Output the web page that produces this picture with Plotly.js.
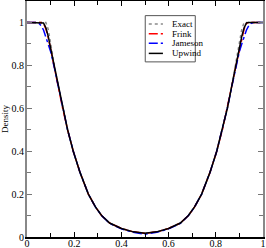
<!DOCTYPE html>
<html>
<head>
<meta charset="utf-8">
<script src="https://cdn.plot.ly/plotly-3.0.1.min.js"></script>
<style>html,body{margin:0;padding:0;background:#fff;}#chart{width:266px;height:248px;}</style>
</head>
<body>
<div id="chart"></div>
<script>
var xPos = [0, 0.02, 0.04, 0.05, 0.06, 0.07, 0.08, 0.09, 0.1, 0.116, 0.133, 0.151, 0.172, 0.196, 0.225, 0.26, 0.29, 0.316, 0.35, 0.4, 0.45, 0.5, 0.55, 0.6, 0.65, 0.684, 0.71, 0.74, 0.775, 0.804, 0.828, 0.849, 0.867, 0.884, 0.9, 0.91, 0.92, 0.93, 0.94, 0.95, 0.96, 0.98, 1];
var exactRho = [1, 1, 1, 1, 1, 1, 1, 0.968, 0.9, 0.8, 0.7, 0.6, 0.5, 0.4, 0.3, 0.2, 0.14, 0.1, 0.065, 0.04, 0.024, 0.018, 0.024, 0.04, 0.065, 0.1, 0.14, 0.2, 0.3, 0.4, 0.5, 0.6, 0.7, 0.8, 0.9, 0.968, 1, 1, 1, 1, 1, 1, 1];
var frinkRho = [1, 1, 1, 1, 1, 0.996, 0.97, 0.93, 0.875, 0.79, 0.7, 0.6, 0.5, 0.4, 0.3, 0.2, 0.14, 0.1, 0.065, 0.04, 0.024, 0.017, 0.024, 0.04, 0.065, 0.1, 0.14, 0.2, 0.3, 0.4, 0.5, 0.6, 0.7, 0.79, 0.875, 0.93, 0.97, 0.996, 1, 1, 1, 1, 1];
var jamesonRho = [1, 1, 1, 0.996, 0.985, 0.965, 0.935, 0.9, 0.865, 0.788, 0.697, 0.6, 0.5, 0.4, 0.3, 0.2, 0.14, 0.1, 0.064, 0.038, 0.022, 0.013, 0.022, 0.038, 0.064, 0.1, 0.14, 0.2, 0.3, 0.4, 0.5, 0.6, 0.697, 0.788, 0.865, 0.9, 0.935, 0.965, 0.985, 0.996, 1, 1, 1];
var upwindRho = [1, 1, 1, 1, 1, 0.998, 0.975, 0.935, 0.88, 0.795, 0.7, 0.6, 0.5, 0.4, 0.3, 0.2, 0.14, 0.1, 0.065, 0.04, 0.024, 0.018, 0.024, 0.04, 0.065, 0.1, 0.14, 0.2, 0.3, 0.4, 0.5, 0.6, 0.7, 0.795, 0.88, 0.935, 0.975, 0.998, 1, 1, 1, 1, 1];
var seriesNames = ['Exact', 'Frink', 'Jameson', 'Upwind'];
var xTickVals = [0, 0.2, 0.4, 0.6, 0.8, 1];
var xTickText = ['0', '0.2', '0.4', '0.6', '0.8', '1'];
var yTickVals = [0, 0.2, 0.4, 0.6, 0.8, 1];
var yTickText = ['0', '0.2', '0.4', '0.6', '0.8', '1'];
var yLabel = 'Density';

var styles = [
  {color: '#8a8a8a', dash: 'dot', width: 1.5},
  {color: '#ff0000', dash: 'dashdot', width: 1.5},
  {color: '#0000ff', dash: 'dashdot', width: 1.5},
  {color: '#000000', dash: 'solid', width: 1.5}
];
var ys = [exactRho, frinkRho, jamesonRho, upwindRho];
var traces = ys.map(function (y, i) {
  return {x: xPos, y: y, name: seriesNames[i], mode: 'lines', type: 'scatter',
          line: {color: styles[i].color, dash: styles[i].dash, width: styles[i].width}, showlegend: false};
});

var font = {family: '"Liberation Serif", "DejaVu Serif", serif', size: 10, color: '#000'};
var lx0 = 0.501, lx1 = 0.713, ly0 = 0.742, ly1 = 0.938;
var rowY = [0.903, 0.861, 0.821, 0.778];
var shapes = [{type: 'rect', xref: 'paper', yref: 'paper', x0: lx0, x1: lx1, y0: ly0, y1: ly1,
               line: {color: '#555', width: 1}, fillcolor: '#fff', layer: 'above'}];
var annotations = [];
seriesNames.forEach(function (n, i) {
  shapes.push({type: 'line', xref: 'paper', yref: 'paper', x0: 0.516, x1: 0.576, y0: rowY[i], y1: rowY[i],
               line: {color: styles[i].color, dash: styles[i].dash, width: styles[i].width}, layer: 'above'});
  annotations.push({xref: 'paper', yref: 'paper', x: 0.605, y: rowY[i], text: n, showarrow: false,
                    xanchor: 'left', yanchor: 'middle', font: {family: font.family, size: 9, color: '#000'}});
});

var layout = {
  width: 266, height: 248,
  margin: {l: 27, r: 3, t: 1, b: 11, pad: 0},
  paper_bgcolor: '#fff', plot_bgcolor: '#fff',
  showlegend: false,
  font: font,
  xaxis: {range: [0, 1], tickvals: xTickVals, ticktext: xTickText, ticks: 'inside', ticklen: 5, tickwidth: 1,
          tickcolor: '#000', showline: true, linecolor: '#000', linewidth: 2, mirror: 'allticks',
          showgrid: false, zeroline: false, tickfont: font, ticklabelstandoff: -4,
          minor: {dtick: 0.1, tick0: 0, ticks: 'inside', ticklen: 4, tickcolor: '#000', showgrid: false}},
  yaxis: {range: [0, 1.1], tickvals: yTickVals, ticktext: yTickText, ticks: 'inside', ticklen: 5, tickwidth: 1,
          tickcolor: '#777', showline: true, linecolor: '#888', linewidth: 2, mirror: 'allticks',
          showgrid: false, zeroline: false, tickfont: font, ticklabelstandoff: -1,
          title: {text: yLabel, font: {family: font.family, size: 9, color: '#000'}, standoff: 4},
          minor: {dtick: 0.1, tick0: 0, ticks: 'inside', ticklen: 4, tickcolor: '#777', showgrid: false}},
  shapes: shapes,
  annotations: annotations
};
Plotly.newPlot('chart', traces, layout, {displayModeBar: false, staticPlot: true});
</script>
</body>
</html>
